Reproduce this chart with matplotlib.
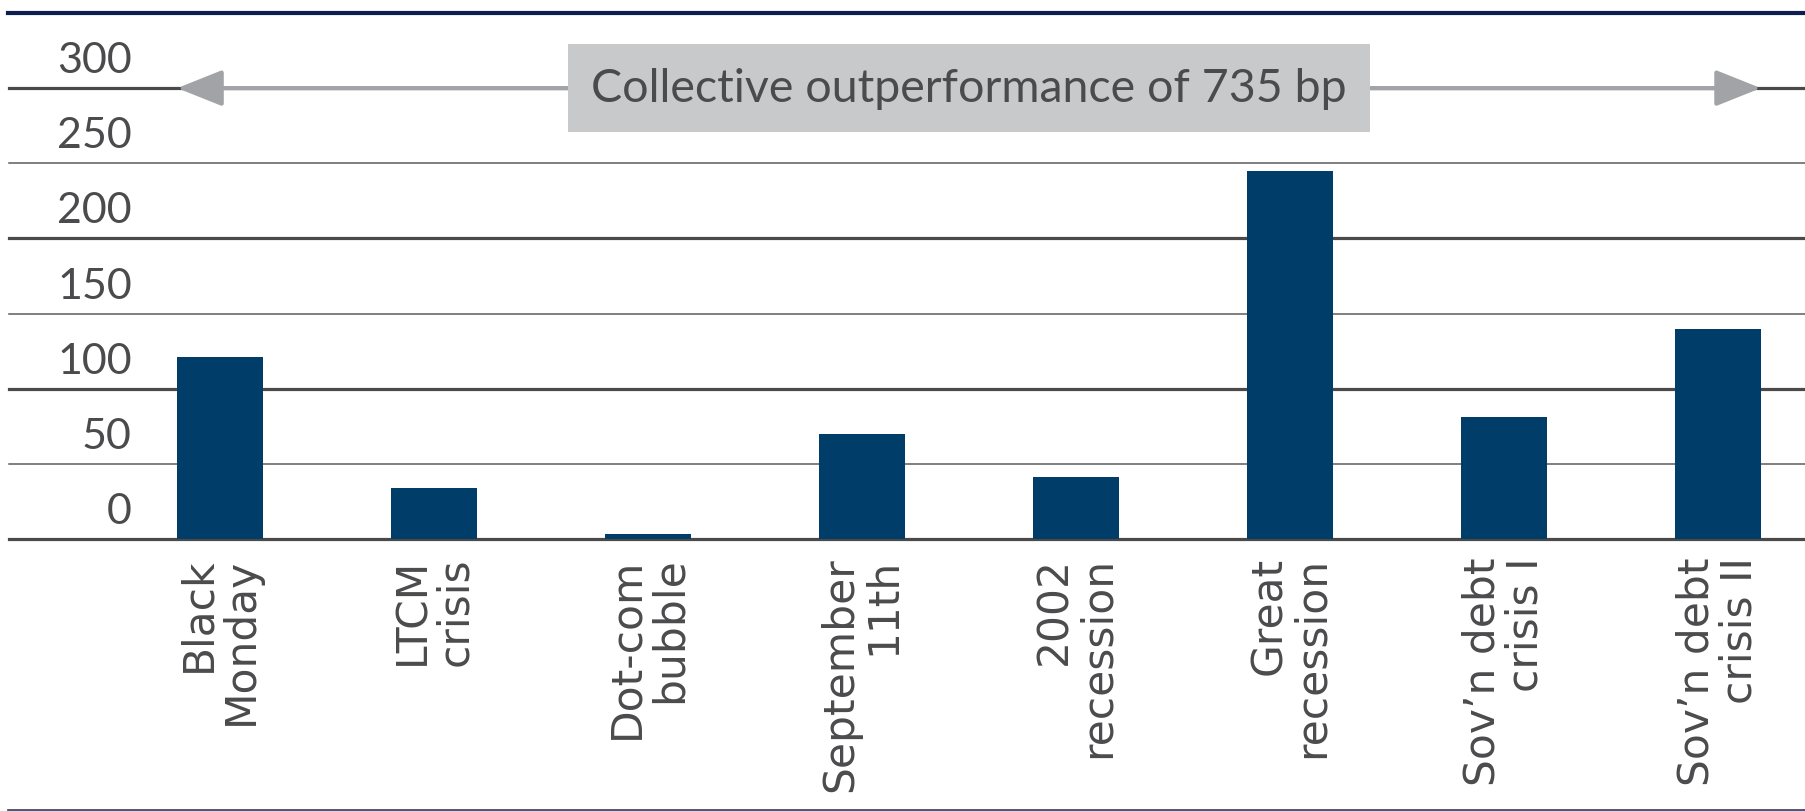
import matplotlib
matplotlib.use("Agg")
import matplotlib.pyplot as plt
from matplotlib.lines import Line2D

# data
events = ["Black\nMonday", "LTCM\ncrisis", "Dot-com\nbubble", "September\n11th",
          "2002\nrecession", "Great\nrecession", "Sov\u2019n debt\ncrisis I",
          "Sov\u2019n debt\ncrisis II"]
outperf_bp = [121, 34, 3, 70, 41, 245, 81, 140]
y_ticks = [0, 50, 100, 150, 200, 250, 300]
y_labels = ["0", "50", "100", "150", "200", "250", "300"]
note = "Collective outperformance of 735 bp"

navy = "#0b1e4e"
bar_col = "#003d69"
txt_col = "#4b4b4d"

fig = plt.figure(figsize=(18.06, 8.12), dpi=100)
ax = fig.add_axes([9 / 1806, 272 / 812, 1797 / 1806, 511 / 812])
ax.set_xlim(-0.986, 7.411)
ax.set_ylim(0, 340)

for sp in ax.spines.values():
    sp.set_visible(False)

# gridlines, alternating heavy / light like the original
for v in y_ticks:
    heavy = (v % 100 == 0)
    ax.axhline(v, color="#4a4a4a" if heavy else "#5c5c5c",
               lw=2.3 if heavy else 1.1, zorder=1, clip_on=False)

ax.bar(range(len(events)), outperf_bp, width=0.40, color=bar_col, zorder=3)

# y labels sit above their gridline
for v, lab in zip(y_ticks, y_labels):
    ax.text(0.0684, v + 18.6, lab, transform=ax.get_yaxis_transform(),
            ha="right", va="center", fontsize=31, color=txt_col, family="Lato")
ax.set_yticks([])

ax.set_xticks(range(len(events)))
ax.set_xticklabels(events, rotation=90, ha="center", va="top",
                   multialignment="right", fontsize=30.5, color=txt_col,
                   family="DejaVu Sans", linespacing=1.02)
ax.tick_params(axis="x", length=0, pad=12.5)

# arrow spanning all events
ax.annotate("", xy=(7.2, 300), xytext=(-0.2, 300),
            arrowprops=dict(arrowstyle="<|-|>,head_length=2.0,head_width=0.8",
                            mutation_scale=14, lw=3, color="#a2a3a6",
                            shrinkA=0, shrinkB=0),
            zorder=4, annotation_clip=False)
ax.text(3.5, 300, note, ha="center", va="center", fontsize=33.5, color=txt_col,
        family="Lato", zorder=5,
        bbox=dict(boxstyle="square,pad=0.5", fc="#c8c9cb", ec="none"))

# top and bottom rules
fig.add_artist(Line2D([8 / 1806, 1], [1 - 13.5 / 812] * 2, color=navy, lw=3))
fig.add_artist(Line2D([8 / 1806, 1], [1.5 / 812] * 2, color="#2b3a66", lw=1.2))

fig.savefig("out.png", dpi=100)
